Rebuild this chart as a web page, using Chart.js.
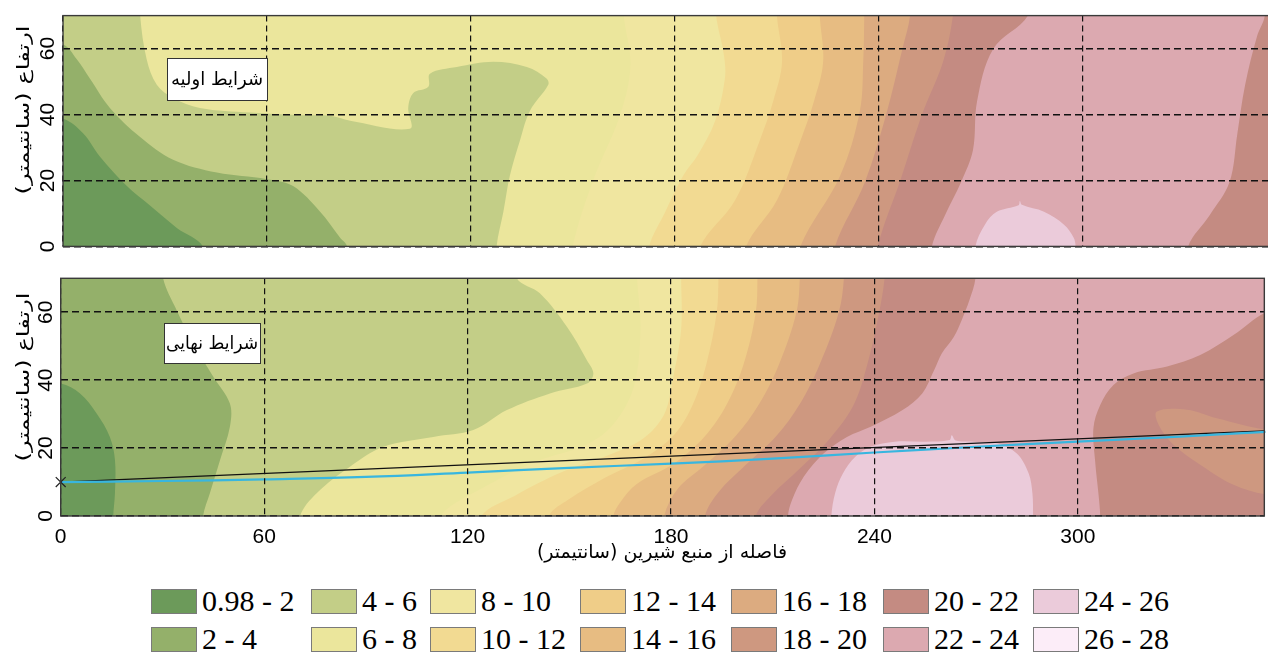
<!DOCTYPE html>
<html lang="fa">
<head>
<meta charset="utf-8">
<title>شوری خاک - شرایط اولیه و نهایی</title>
<script src="https://cdn.jsdelivr.net/npm/chart.js@4.4.1/dist/chart.umd.min.js"></script>
<style>
  html, body { margin: 0; padding: 0; background: #fff; }
  body { width: 1268px; height: 656px; overflow: hidden; position: relative; }
  canvas { position: absolute; left: 0; }
  #cTop { top: 0; }
  #cBot { top: 262px; }
  .ytitle {
    position: absolute; white-space: nowrap; direction: rtl;
    font-family: "DejaVu Sans", sans-serif; font-size: 17px; color: #000;
    transform: translate(-50%, -50%) rotate(-90deg) scaleX(1.42);
  }
  .xtitle {
    position: absolute; white-space: nowrap; direction: rtl;
    font-family: "DejaVu Sans", sans-serif; font-size: 19px; color: #000;
    transform: translate(-50%, -50%);
  }
  .lg-sw { position: absolute; width: 44px; height: 23px; border: 1px solid #7a7a7a; }
  .lg-tx { position: absolute; font-family: "Liberation Serif", "Times New Roman", serif;
           font-size: 30px; line-height: 30px; color: #000; white-space: nowrap; }
</style>
</head>
<body>
<canvas id="cTop" width="1290" height="262"></canvas>
<canvas id="cBot" width="1290" height="300"></canvas>
<div class="ytitle" style="left:23px;top:110px">ارتفاع (سانتیمتر)</div>
<div class="ytitle" style="left:23px;top:377px">ارتفاع (سانتیمتر)</div>
<div class="xtitle" style="left:662px;top:551px">فاصله از منبع شیرین (سانتیمتر)</div>
<div id="legend"></div>
<script>
// ---------- axes ----------
const X_MAX = 355;
const Y_MAX = 70;
const X_TICKS = [0, 60, 120, 180, 240, 300];
const Y_TICKS = [0, 20, 40, 60];

// ---------- salinity classes ----------
const BAND_LABELS = ['0.98 - 2', '2 - 4', '4 - 6', '6 - 8', '8 - 10', '10 - 12', '12 - 14',
                     '14 - 16', '16 - 18', '18 - 20', '20 - 22', '22 - 24', '24 - 26', '26 - 28'];
const BAND_COLORS = ['#6c9a5a', '#94b06a', '#c3ce87', '#ebe69c', '#f0e6a0', '#f2da92', '#efcd88',
                     '#e7bc82', '#dcab80', '#ce9880', '#c48b82', '#dca9b0', '#ebcbda', '#fcedf8'];

// ---------- initial conditions: isolines [distance, height] ----------
const ini_2  = [[0,38.7],[5.9,34.3],[10.9,27.2],[18.8,18.3],[25.6,12.4],[33.5,5.6],[41.2,0]];
const ini_4  = [[0,61.2],[4,56.8],[7.9,50.9],[13.8,42],[22.7,33.2],[32.4,26.3],[45.3,22.4],[60,20.4],
                [67.7,18.3],[75.6,10.6],[81.5,2.7],[83.6,0]];
const ini_6  = [[22.7,70],[24.6,56.8],[27.6,49],[32.4,45],[40.3,42],[55,40.6],[69.7,39.8],[78.6,39.6],
                [84.5,38.1],[102.1,35.7],[101.6,42],[103.1,46.5],[107.5,48.4],[108,52.4],[115.9,54.4],
                [126.6,56],[136.5,54.4],[142.3,50.9],[142.8,49],[137.4,41.1],[134.5,32.2],[131.5,21.4],
                [129.6,10.5],[127.6,0]];
const ini_8  = [[165,70],[167,55],[164,40],[156,20],[150,0]];
const ini_10 = [[192.2,70],[194.5,58],[194.8,51],[191.9,38],[187,28],[182.5,21.4],[177,10],[172.5,0]];
const ini_12 = [[210.1,70],[211.6,56],[209,44],[205,32],[197.8,14],[187.5,0]];
const ini_14 = [[222.7,70],[223.7,56],[221,44],[217,32],[210.1,14],[201,0]];
const ini_16 = [[235.8,70],[235.5,56],[234.5,41],[228.7,21.4],[217,0]];
const ini_18 = [[249.3,70],[247,59.8],[242.3,40.2],[236,19.5],[227.2,0]];
const ini_20 = [[261.9,70],[259,56],[252.8,40],[246.4,20],[239.8,0]];
const ini_22_west = [[284,70],[273.7,59.8],[269,44],[267.8,29.2],[264.3,19.5],[259.6,9.5],[255.7,0]];
const ini_22_east = [[331.1,0],[337.5,9.5],[343.3,19.5],[345.6,34.2],[347.9,49],[351.4,63.7],[353.7,70]];
const ini_24 = [[268.5,0],[271.3,6.6],[274.8,10.5],[281.2,12.5],[281.6,13.8],[282.2,12.6],[288.7,10.5],
                [294.6,6.6],[297.4,2.7],[298,0]];

// ---------- final conditions: isolines [distance, height] ----------
const fin_2  = [[0,39],[5.7,36.1],[10.6,30.2],[14.5,23.3],[16,16.5],[16,6.7],[15.5,0]];
const fin_4  = [[30.2,70],[34.2,60.6],[39.1,50.8],[45,41],[49.9,33.1],[49.9,26.3],[47,16.5],[44,6.7],[42,0]];
const fin_6  = [[134.5,70],[141.4,65.5],[149.3,55.7],[155.2,45.9],[157.1,42],[155.2,39],[144.3,36.1],
                [131.6,31.2],[121.7,25.3],[109.9,23.3],[95.2,20.4],[85.3,14.5],[75.5,6.7],[70.6,0]];
const fin_8  = [[170,70],[171,55],[169,38],[163,27],[155,21],[140,16],[124,8],[112,0]];
const fin_10 = [[183,70],[183,55],[180.5,40],[178,30],[172,23],[163,18.5],[148,13],[134,6],[124,0]];
const fin_12 = [[194,70],[193.5,60],[190.5,45],[186.5,33],[181,24],[172,17],[160,11],[150,5],[144,0]];
const fin_14 = [[205.5,70],[205,60],[201.5,45],[196.5,33],[190,23.5],[181,15.5],[170,9.5],[165,4],[163,0]];
const fin_16 = [[218,70],[217,60],[212,45],[206,33],[199,23.5],[190,15],[182,8],[178,0]];
const fin_18 = [[231,70],[229.5,60],[224,45],[218,33],[211,23.5],[202,15],[194,7],[190,0]];
const fin_20 = [[243,70],[241,58],[238,45],[234,33],[227,23],[218,14],[209.5,6],[205,0]];
const fin_22_west = [[269.8,70],[268,63.5],[265.7,57.6],[263.4,52.7],[259.9,47.9],[257.6,42.9],[254.1,36.1],
                     [248.3,31.2],[238.9,26.3],[231.9,23.3],[225,18.4],[219.2,11.6],[215.7,4.7],[214.5,0]];
const fin_22_east = [[306.6,0],[306.1,6.3],[305.1,16.1],[304.6,25.9],[306.6,32.7],[310.5,38.6],[316.4,42],
                     [326.3,44],[336.1,47.4],[345.9,53.3],[356,60.2]];
const fin_24 = [[227.3,0],[228.4,6.7],[230.7,12.5],[234.3,17.4],[238.9,20.4],[246,21.9],[255.2,21.9],
                [262.2,22.4],[262.8,23.8],[264,22.2],[269.2,21.9],[276.2,21.4],[282,18.4],[285.5,12.5],
                [286.6,6.7],[286.8,0]];
const fin_18_lobe = [[356,25.4],[341,28.8],[332.2,31.3],[323.3,30.8],[323.8,26.9],[328.2,21],[336.1,15.1],
                     [345.9,9.2],[356,6.3]];

// ---------- water table lines in the final state ----------
const fin_line_straight = [[0,10],[356,25.1]];
const fin_line_measured = [[0,10],[30,10.3],[60,10.8],[90,11.5],[120,12.8],[150,14.2],[180,15.4],[210,16.9],
                           [240,18.7],[270,20.4],[300,21.9],[330,23.4],[356,24.8]];
const fin_source_point = [[0,10]];

// ---------- polygon builders (regions closed far outside the plot) ----------
const FAR = 2000;
const P = ([x, y]) => ({x, y});
function stubStart(c) {
  const [x, y] = c[0];
  return y >= Y_MAX ? {x, y: Y_MAX + 8} : {x: -8, y};
}
function stubEnd(c) {
  const [x, y] = c[c.length - 1];
  if (y <= 0) return {x, y: -8};
  if (y >= Y_MAX) return {x, y: Y_MAX + 8};
  return {x: X_MAX + 8, y};
}
function fullArea() {
  return [{x: -FAR, y: FAR}, {x: -FAR, y: -FAR}, {x: FAR, y: -FAR}, {x: FAR, y: FAR}];
}
function rightOf(c) {
  return [{x: -FAR, y: FAR}, stubStart(c), ...c.map(P), stubEnd(c), {x: FAR, y: -FAR}, {x: FAR, y: FAR}];
}
function between(w, e) {
  return [{x: -FAR, y: FAR}, stubStart(w), ...w.map(P), stubEnd(w),
          {x: e[0][0], y: -8}, ...e.map(P), stubEnd(e), {x: FAR, y: FAR}];
}
function onFloor(c) {
  return [{x: -FAR, y: -FAR}, {x: c[0][0], y: -8}, ...c.map(P), {x: c[c.length - 1][0], y: -8}, {x: FAR, y: -FAR}];
}
function onRightWall(c) {
  const a = c[0], b = c[c.length - 1], wx = X_MAX + 15;
  return [{x: -FAR, y: FAR}, {x: wx, y: FAR}, {x: wx, y: a[1]}, ...c.map(P),
          {x: wx, y: b[1]}, {x: FAR, y: b[1]}, {x: FAR, y: FAR}];
}

const iniLayers = [
  [0, fullArea(), 0], [1, rightOf(ini_2)], [2, rightOf(ini_4)], [3, rightOf(ini_6)], [4, rightOf(ini_8)],
  [5, rightOf(ini_10)], [6, rightOf(ini_12)], [7, rightOf(ini_14)], [8, rightOf(ini_16)],
  [9, rightOf(ini_18)], [10, rightOf(ini_20)], [11, between(ini_22_west, ini_22_east)], [12, onFloor(ini_24)]
];
const finLayers = [
  [0, fullArea(), 0], [1, rightOf(fin_2)], [2, rightOf(fin_4)], [3, rightOf(fin_6)], [4, rightOf(fin_8)],
  [5, rightOf(fin_10)], [6, rightOf(fin_12)], [7, rightOf(fin_14)], [8, rightOf(fin_16)],
  [9, rightOf(fin_18)], [10, rightOf(fin_20)], [11, between(fin_22_west, fin_22_east)], [12, onFloor(fin_24)],
  [9, onRightWall(fin_18_lobe)]
];

function layerDatasets(layers) {
  const n = layers.length;
  return layers.map(([band, pts, tension], i) => ({
    label: BAND_LABELS[band],
    data: pts,
    backgroundColor: BAND_COLORS[band],
    borderWidth: 0,
    pointRadius: 0,
    fill: 'shape',
    tension: tension === undefined ? 0.35 : tension,
    order: 100 + (n - i)
  }));
}

// ---------- plugins ----------
const framePlugin = {
  id: 'frame',
  afterDraw(chart) {
    const {ctx, chartArea: a} = chart;
    ctx.save();
    ctx.strokeStyle = '#3a3a3a';
    ctx.lineWidth = 1.4;
    ctx.strokeRect(a.left, a.top, a.right - a.left, a.bottom - a.top);
    ctx.restore();
  }
};
const tagPlugin = {
  id: 'tag',
  afterDraw(chart, args, opts) {
    if (!opts || !opts.text) return;
    const {ctx, scales: {x, y}} = chart;
    ctx.save();
    const w = opts.w, h = opts.h;
    const right = Math.round(x.getPixelForValue(opts.x));
    const cy = Math.round(y.getPixelForValue(opts.y));
    ctx.fillStyle = '#fff';
    ctx.fillRect(right - w, cy - h / 2, w, h);
    ctx.strokeStyle = '#333';
    ctx.lineWidth = 1;
    ctx.strokeRect(right - w + 0.5, cy - h / 2 + 0.5, w, h);
    ctx.font = '18px "DejaVu Sans", sans-serif';
    ctx.direction = 'rtl';
    ctx.fillStyle = '#000';
    ctx.textAlign = 'center';
    ctx.textBaseline = 'middle';
    ctx.fillText(opts.text, right - w / 2, cy + 1, w - 4);
    ctx.restore();
  }
};

function panelOptions(cfg) {
  return {
    responsive: false,
    animation: false,
    events: [],
    layout: {padding: cfg.padding},
    elements: {line: {capBezierPoints: false}, point: {radius: 0}},
    plugins: {legend: {display: false}, tooltip: {enabled: false}, tag: cfg.tag},
    scales: {
      x: {
        type: 'linear', bounds: 'data',
        afterDataLimits(s) { s.min = 0; s.max = X_MAX; },
        afterBuildTicks(s) { s.ticks = X_TICKS.map(v => ({value: v})); },
        afterFit(s) { s.height = cfg.xHeight; },
        grid: {z: 1, color: '#111', lineWidth: 1.2, drawTicks: false},
        border: {display: false, dash: [6, 4]},
        ticks: {display: cfg.xLabels, color: '#000', padding: 9, maxRotation: 0,
                font: {family: 'Liberation Sans', size: 21}}
      },
      y: {
        type: 'linear', bounds: 'data',
        afterDataLimits(s) { s.min = 0; s.max = Y_MAX; },
        afterBuildTicks(s) { s.ticks = Y_TICKS.map(v => ({value: v})); },
        afterFit(s) { s.width = cfg.yWidth; },
        grid: {z: 1, color: '#111', lineWidth: 1.6, drawTicks: false},
        border: {display: false, dash: [7, 4]},
        ticks: {color: '#000', padding: 3, minRotation: 90, maxRotation: 90, autoSkip: false,
                crossAlign: 'center', font: {family: 'Liberation Sans', size: 21}}
      }
    }
  };
}

// upper panel: initial conditions
new Chart(document.getElementById('cTop'), {
  type: 'line',
  data: {datasets: layerDatasets(iniLayers)},
  options: panelOptions({
    padding: {left: 0, top: 12.5, right: 1290 - (63 + X_MAX * 3.398), bottom: 13},
    xHeight: 0, yWidth: 63, xLabels: false,
    tag: {text: 'شرایط اولیه', x: 60, y: 50.8, w: 100, h: 42}
  }),
  plugins: [framePlugin, tagPlugin]
});

// lower panel: final conditions
const lineSets = [
  {label: 'خط مستقیم', data: fin_line_straight.map(P), borderColor: '#111', borderWidth: 1.3,
   fill: false, tension: 0, pointRadius: 0, order: 2},
  {label: 'سطح ایستابی', data: fin_line_measured.map(P), borderColor: '#38b6df', borderWidth: 2.2,
   fill: false, tension: 0.4, pointRadius: 0, order: 1},
  {label: 'منبع', data: fin_source_point.map(P), showLine: false, pointStyle: 'crossRot',
   pointRadius: 7, borderColor: '#222', borderWidth: 1.2, clip: false, order: 0}
];
new Chart(document.getElementById('cBot'), {
  type: 'line',
  data: {datasets: [...layerDatasets(finLayers), ...lineSets]},
  options: panelOptions({
    padding: {left: 0, top: 16.3, right: 1290 - (60.7 + X_MAX * 3.3905), bottom: 0},
    xHeight: 46, yWidth: 60.7, xLabels: true,
    tag: {text: 'شرایط نهایی', x: 58.8, y: 51, w: 96, h: 40}
  }),
  plugins: [framePlugin, tagPlugin]
});

// ---------- legend: 7 columns x 2 rows, ordered down each column ----------
const LEG_COL_X = [151, 311, 430, 580, 731, 883, 1033];
const LEG_ROW_Y = [589, 627];
const legend = document.getElementById('legend');
BAND_LABELS.forEach((lab, i) => {
  const col = Math.floor(i / 2), row = i % 2;
  const sw = document.createElement('div');
  sw.className = 'lg-sw';
  sw.style.left = LEG_COL_X[col] + 'px';
  sw.style.top = LEG_ROW_Y[row] + 'px';
  sw.style.background = BAND_COLORS[i];
  legend.appendChild(sw);
  const tx = document.createElement('div');
  tx.className = 'lg-tx';
  tx.textContent = lab;
  tx.style.left = (LEG_COL_X[col] + 51) + 'px';
  tx.style.top = (LEG_ROW_Y[row] - 3) + 'px';
  legend.appendChild(tx);
});
</script>
</body>
</html>
